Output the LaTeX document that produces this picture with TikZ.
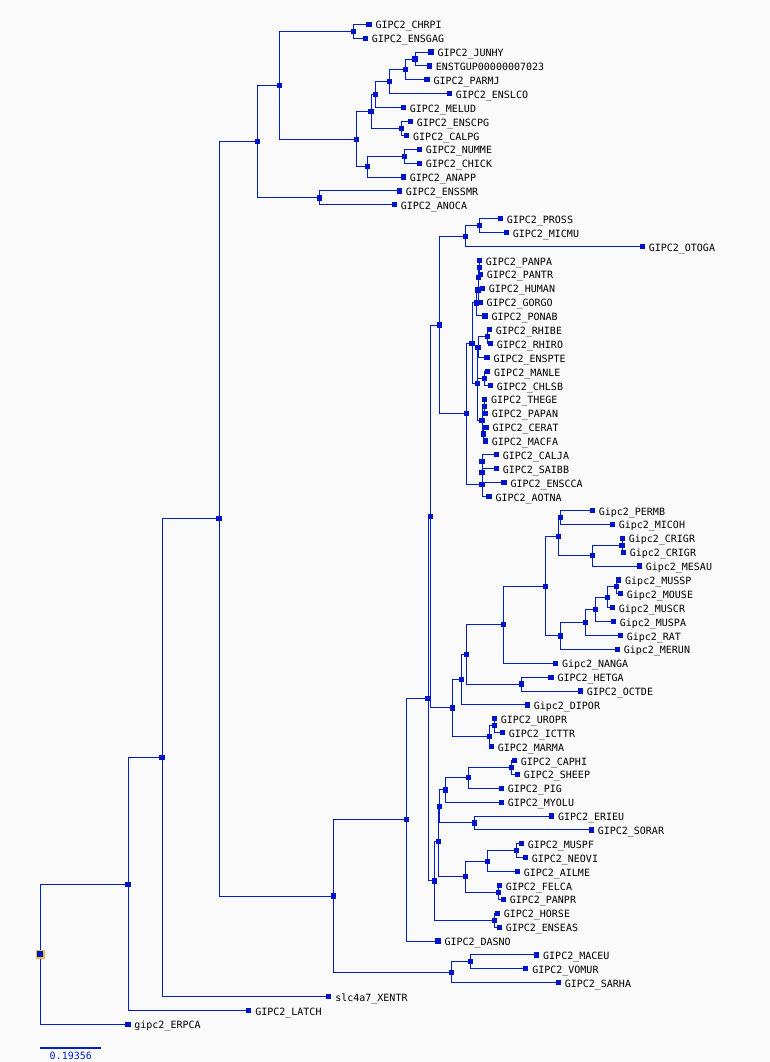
\documentclass[tikz,border=0pt]{standalone}
\usepackage{fontspec}
\newfontfamily\lbfont{DejaVu Sans Mono}
\definecolor{lc}{RGB}{0,30,204}
\definecolor{mkc}{RGB}{0,20,200}
\definecolor{bgc}{RGB}{250,250,250}
\definecolor{yel}{RGB}{236,190,70}
\pgfdeclarelayer{back}
\pgfdeclarelayer{edges}
\pgfsetlayers{back,edges,main}
\tikzset{
  mk/.style={rectangle, fill=mkc, draw=none, minimum size=5.2pt, inner sep=0pt},
  lab/.style={anchor=base west, inner sep=0pt, font=\lbfont\fontsize{10pt}{10pt}\selectfont, text=black},
  edge/.style={draw=lc, line width=1pt},
}
\newcommand\leafnode[4]{%
  \node[mk] (#1) at (#2,#3) {};
  \node[lab] (#1-t) at (#2+6.3,#3+4.6) {#4};}
\newcommand\inode[3]{\node[mk] (#1) at (#2,#3) {};}
\begin{document}
\begin{tikzpicture}[x=1pt,y=-1pt]
\begin{pgfonlayer}{back}
\fill[bgc] (0,0) rectangle (770,1062);
\end{pgfonlayer}
\useasboundingbox (0,0) rectangle (770,1062);
% leaves
\leafnode{CHRPI}{369}{24.3}{GIPC2\_CHRPI}
\leafnode{ENSGAG}{365.3}{38.19}{GIPC2\_ENSGAG}
\leafnode{JUNHY}{431}{52.08}{GIPC2\_JUNHY}
\leafnode{ENSTGUP}{429.3}{65.97}{ENSTGUP00000007023}
\leafnode{PARMJ}{427}{79.86}{GIPC2\_PARMJ}
\leafnode{ENSLCO}{449.3}{93.75}{GIPC2\_ENSLCO}
\leafnode{MELUD}{403.3}{107.64}{GIPC2\_MELUD}
\leafnode{ENSCPG}{410.3}{121.53}{GIPC2\_ENSCPG}
\leafnode{CALPG}{406.7}{135.42}{GIPC2\_CALPG}
\leafnode{NUMME}{419.3}{149.31}{GIPC2\_NUMME}
\leafnode{CHICK}{419.3}{163.2}{GIPC2\_CHICK}
\leafnode{ANAPP}{403.3}{177.09}{GIPC2\_ANAPP}
\leafnode{ENSSMR}{399.3}{190.98}{GIPC2\_ENSSMR}
\leafnode{ANOCA}{394.3}{204.87}{GIPC2\_ANOCA}
\leafnode{PROSS}{500.3}{218.76}{GIPC2\_PROSS}
\leafnode{MICMU}{506.3}{232.65}{GIPC2\_MICMU}
\leafnode{OTOGA}{642.3}{246.54}{GIPC2\_OTOGA}
\leafnode{PANPA}{479.3}{260.43}{GIPC2\_PANPA}
\leafnode{PANTR}{480.3}{274.32}{GIPC2\_PANTR}
\leafnode{HUMAN}{482.3}{288.21}{GIPC2\_HUMAN}
\leafnode{GORGO}{480}{302.1}{GIPC2\_GORGO}
\leafnode{PONAB}{485}{315.99}{GIPC2\_PONAB}
\leafnode{RHIBE}{489.3}{329.88}{GIPC2\_RHIBE}
\leafnode{RHIRO}{490.3}{343.77}{GIPC2\_RHIRO}
\leafnode{ENSPTE}{487}{357.66}{GIPC2\_ENSPTE}
\leafnode{MANLE}{487.7}{371.55}{GIPC2\_MANLE}
\leafnode{CHLSB}{490.3}{385.44}{GIPC2\_CHLSB}
\leafnode{THEGE}{484.7}{399.33}{GIPC2\_THEGE}
\leafnode{PAPAN}{485.3}{413.22}{GIPC2\_PAPAN}
\leafnode{CERAT}{486}{427.11}{GIPC2\_CERAT}
\leafnode{MACFA}{485.3}{441.0}{GIPC2\_MACFA}
\leafnode{CALJA}{496.3}{454.89}{GIPC2\_CALJA}
\leafnode{SAIBB}{496.3}{468.78}{GIPC2\_SAIBB}
\leafnode{ENSCCA}{504}{482.67}{GIPC2\_ENSCCA}
\leafnode{AOTNA}{489}{496.56}{GIPC2\_AOTNA}
\leafnode{PERMB}{592.3}{510.45}{Gipc2\_PERMB}
\leafnode{MICOH}{612.3}{524.34}{Gipc2\_MICOH}
\leafnode{CRIGRa}{622.3}{538.23}{Gipc2\_CRIGR}
\leafnode{CRIGRb}{623.3}{552.12}{Gipc2\_CRIGR}
\leafnode{MESAU}{639.3}{566.01}{Gipc2\_MESAU}
\leafnode{MUSSP}{618.7}{579.9}{Gipc2\_MUSSP}
\leafnode{MOUSE}{620.3}{593.79}{Gipc2\_MOUSE}
\leafnode{MUSCR}{612.3}{607.68}{Gipc2\_MUSCR}
\leafnode{MUSPA}{613.3}{621.57}{Gipc2\_MUSPA}
\leafnode{RAT}{620.3}{635.46}{Gipc2\_RAT}
\leafnode{MERUN}{617.3}{649.35}{Gipc2\_MERUN}
\leafnode{NANGA}{555.5}{663.24}{Gipc2\_NANGA}
\leafnode{HETGA}{551}{677.13}{GIPC2\_HETGA}
\leafnode{OCTDE}{580.3}{691.02}{GIPC2\_OCTDE}
\leafnode{DIPOR}{527.3}{704.91}{Gipc2\_DIPOR}
\leafnode{UROPR}{494.3}{718.8}{GIPC2\_UROPR}
\leafnode{ICTTR}{502.3}{732.69}{GIPC2\_ICTTR}
\leafnode{MARMA}{491.3}{746.58}{GIPC2\_MARMA}
\leafnode{CAPHI}{514.3}{760.47}{GIPC2\_CAPHI}
\leafnode{SHEEP}{517.3}{774.36}{GIPC2\_SHEEP}
\leafnode{PIG}{501.3}{788.25}{GIPC2\_PIG}
\leafnode{MYOLU}{501.3}{802.14}{GIPC2\_MYOLU}
\leafnode{ERIEU}{551.5}{816.03}{GIPC2\_ERIEU}
\leafnode{SORAR}{591.3}{829.92}{GIPC2\_SORAR}
\leafnode{MUSPF}{521.3}{843.81}{GIPC2\_MUSPF}
\leafnode{NEOVI}{525.3}{857.7}{GIPC2\_NEOVI}
\leafnode{AILME}{517.3}{871.59}{GIPC2\_AILME}
\leafnode{FELCA}{499.3}{885.48}{GIPC2\_FELCA}
\leafnode{PANPR}{503.3}{899.37}{GIPC2\_PANPR}
\leafnode{HORSE}{497.3}{913.26}{GIPC2\_HORSE}
\leafnode{ENSEAS}{499.3}{927.15}{GIPC2\_ENSEAS}
\leafnode{DASNO}{438}{941.04}{GIPC2\_DASNO}
\leafnode{MACEU}{536.7}{954.93}{GIPC2\_MACEU}
\leafnode{VOMUR}{525.8}{968.82}{GIPC2\_VOMUR}
\leafnode{SARHA}{558.3}{982.71}{GIPC2\_SARHA}
\leafnode{XENTR}{328.8}{996.6}{slc4a7\_XENTR}
\leafnode{LATCH}{248.8}{1010.49}{GIPC2\_LATCH}
\leafnode{ERPCA}{127.9}{1024.38}{gipc2\_ERPCA}
% internal nodes
\inode{A1}{353.3}{31.25}
\inode{A2}{415}{59.03}
\inode{A3}{405.3}{69.44}
\inode{A4}{389.3}{81.6}
\inode{A5}{375.3}{94.62}
\inode{A6}{401.3}{128.48}
\inode{A7}{371}{111.55}
\inode{A8}{404.3}{156.26}
\inode{A9}{367.3}{166.67}
\inode{A10}{356.3}{139.11}
\inode{A11}{279.3}{85.18}
\inode{A12}{319.3}{197.93}
\inode{A13}{257.3}{141.55}
\inode{S1}{479.3}{225.7}
\inode{S2}{465.3}{236.12}
\inode{P1}{479.3}{267.38}
\inode{P2}{478.5}{277.8}
\inode{P3}{478}{289.95}
\inode{P4}{476.3}{302.97}
\inode{M1}{487.7}{336.83}
\inode{M2}{478}{347.24}
\inode{M3}{484.7}{378.5}
\inode{Q1}{484.7}{406.28}
\inode{Q3}{483.5}{434.05}
\inode{Pap}{482}{420.16}
\inode{M5}{477.7}{383.7}
\inode{C}{472}{343.33}
\inode{N1}{482}{461.84}
\inode{N2}{482}{472.25}
\inode{N3}{482}{484.4}
\inode{Sim}{466.3}{413.87}
\inode{Prim}{439.3}{325.0}
\inode{R1}{560.3}{517.4}
\inode{R2}{622}{545.18}
\inode{R3}{592.3}{555.6}
\inode{R4}{558.3}{536.5}
\inode{R5}{616.7}{586.85}
\inode{R6}{607.3}{597.26}
\inode{R7}{595.3}{609.42}
\inode{R8}{585.3}{622.44}
\inode{R9}{560.3}{635.9}
\inode{R10}{545.3}{586.2}
\inode{R11}{503.3}{624.72}
\inode{H1}{521.5}{684.08}
\inode{R12}{466.3}{654.4}
\inode{R13}{461.3}{679.66}
\inode{Q}{494.3}{725.75}
\inode{Q2}{489.3}{736.16}
\inode{Gl}{452.3}{707.91}
\inode{Eua}{430.3}{516.45}
\inode{L1}{511.3}{767.42}
\inode{L2}{468.3}{777.83}
\inode{L3}{445.3}{789.99}
\inode{L4}{474.3}{822.98}
\inode{L5}{439.3}{806.48}
\inode{L6}{516.3}{850.76}
\inode{L7}{487.3}{861.17}
\inode{L8}{498.3}{892.43}
\inode{L9}{465.3}{876.8}
\inode{L10}{438.3}{841.64}
\inode{L11}{494.3}{920.2}
\inode{L12}{434.3}{880.92}
\inode{Bor}{428}{698.7}
\inode{Eut}{406.3}{819.87}
\inode{Ma1}{470.5}{961.88}
\inode{Ma2}{451.5}{972.29}
\inode{Th}{333.3}{896.08}
\inode{N219}{219}{518.82}
\inode{N162}{162}{757.7}
\inode{N128}{128}{884.1}
\node[rectangle, fill=mkc, draw=yel, line width=1.6pt, minimum size=7.5pt, inner sep=0pt] (Root) at (40.4,954.24) {};
% edges
\begin{pgfonlayer}{edges}
\foreach \p/\c in {A1/CHRPI,A1/ENSGAG,A2/JUNHY,A2/ENSTGUP,A3/A2,A3/PARMJ,A4/A3,A4/ENSLCO,
  A5/A4,A5/MELUD,A6/ENSCPG,A6/CALPG,A7/A5,A7/A6,A8/NUMME,A8/CHICK,A9/A8,A9/ANAPP,
  A10/A7,A10/A9,A11/A1,A11/A10,A12/ENSSMR,A12/ANOCA,A13/A11,A13/A12,
  S1/PROSS,S1/MICMU,S2/S1,S2/OTOGA,P1/PANPA,P1/PANTR,P2/P1,P2/HUMAN,P3/P2,P3/GORGO,
  P4/P3,P4/PONAB,M1/RHIBE,M1/RHIRO,M2/M1,M2/ENSPTE,M3/MANLE,M3/CHLSB,Q1/THEGE,Q1/PAPAN,
  Q3/CERAT,Q3/MACFA,Pap/Q1,Pap/Q3,M5/M2,M5/M3,M5/Pap,C/P4,C/M5,N1/CALJA,N1/SAIBB,N2/N1,
  N2/ENSCCA,N3/N2,N3/AOTNA,Sim/C,Sim/N3,Prim/S2,Prim/Sim,
  R1/PERMB,R1/MICOH,R2/CRIGRa,R2/CRIGRb,R3/R2,R3/MESAU,R4/R1,R4/R3,R5/MUSSP,R5/MOUSE,
  R6/R5,R6/MUSCR,R7/R6,R7/MUSPA,R8/R7,R8/RAT,R9/R8,R9/MERUN,R10/R4,R10/R9,R11/R10,
  R11/NANGA,H1/HETGA,H1/OCTDE,R12/R11,R12/H1,R13/R12,R13/DIPOR,Q/UROPR,Q/ICTTR,Q2/Q,
  Q2/MARMA,Gl/R13,Gl/Q2,Eua/Prim,Eua/Gl,
  L1/CAPHI,L1/SHEEP,L2/L1,L2/PIG,L3/L2,L3/MYOLU,L4/ERIEU,L4/SORAR,L5/L3,L5/L4,
  L6/MUSPF,L6/NEOVI,L7/L6,L7/AILME,L8/FELCA,L8/PANPR,L9/L7,L9/L8,L10/L5,L10/L9,
  L11/HORSE,L11/ENSEAS,L12/L10,L12/L11,Bor/Eua,Bor/L12,Eut/Bor,Eut/DASNO,
  Ma1/MACEU,Ma1/VOMUR,Ma2/Ma1,Ma2/SARHA,Th/Eut,Th/Ma2,N219/A13,N219/Th,
  N162/N219,N162/XENTR,N128/N162,N128/LATCH,Root/N128,Root/ERPCA}
  \draw[edge] (\p.center) |- (\c.center);
\end{pgfonlayer}
% scale bar
\coordinate (sb1) at (40.4,1047.7);
\coordinate (sb2) at (101.3,1047.7);
\draw[draw=lc, line width=2pt] (sb1) -- (sb2);
\node[lab, text=lc, anchor=base] (sbl) at (70.8,1059.8) {0.19356};
\end{tikzpicture}
\end{document}
